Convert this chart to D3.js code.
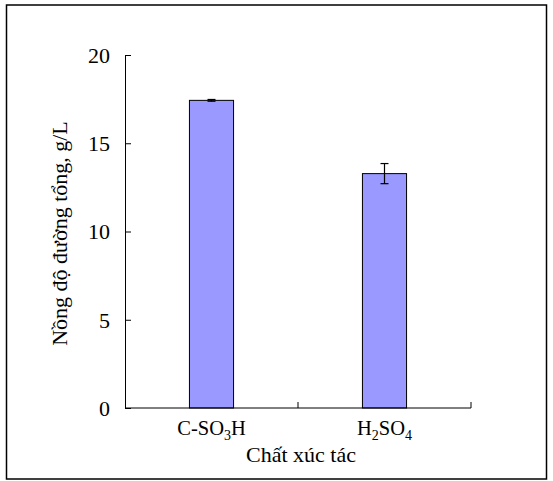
<!DOCTYPE html>
<html>
<head>
    <meta charset="utf-8">
    <script src="https://cdn.jsdelivr.net/npm/d3@7"></script>
    <style type="text/css">
        body {
            margin: 0;
            background: #fff;
        }
        text {
            font-family: "Liberation Serif", "Times New Roman", serif;
            fill: #000;
        }
    </style>
</head>
<body>
<div id="visContainer"></div>
<script>

// data
var categories = ["C-SO3H", "H2SO4"];
var values = [17.43, 13.28];
var errors = [0.05, 0.57];
var yTicks = [0, 5, 10, 15, 20];
var xTitle = "Chất xúc tác";
var yTitle = "Nồng độ đường tổng, g/L";

var width = 553, height = 481;
var mLeft = 125, mRight = 471, mTop = 55, mBottom = 408;

var svg = d3.select("#visContainer").append("svg")
        .attr("width", width)
        .attr("height", height);

// outer frame
svg.append("rect")
        .attr("x", 6.5)
        .attr("y", 5)
        .attr("width", 540)
        .attr("height", 474)
        .style("fill", "none")
        .style("stroke", "#000")
        .style("stroke-width", 1.5);

var x = d3.scaleBand()
        .domain(categories)
        .range([mLeft, mRight])
        .padding(0);

var y = d3.scaleLinear()
        .domain([0, 20])
        .range([mBottom, mTop]);

var barW = x.bandwidth() * 0.255;

function cx(i) {
    return x(categories[i]) + x.bandwidth() / 2;
}

// bars
svg.selectAll("rect.bar")
        .data(values)
        .enter().append("rect")
        .attr("class", "bar")
        .attr("x", function (d, i) { return cx(i) - barW / 2; })
        .attr("y", function (d) { return y(d); })
        .attr("width", barW)
        .attr("height", function (d) { return y(0) - y(d); })
        .style("fill", "#9999ff")
        .style("stroke", "#000")
        .style("stroke-width", 1);

// error bars
var err = svg.selectAll("g.err")
        .data(values)
        .enter().append("g")
        .attr("class", "err")
        .style("stroke", "#000")
        .style("stroke-width", 1.2);

err.append("line")
        .attr("x1", function (d, i) { return cx(i); })
        .attr("x2", function (d, i) { return cx(i); })
        .attr("y1", function (d, i) { return y(d + errors[i]); })
        .attr("y2", function (d, i) { return y(d - errors[i]); });

[1, -1].forEach(function (s) {
    err.append("line")
            .attr("x1", function (d, i) { return cx(i) - 4; })
            .attr("x2", function (d, i) { return cx(i) + 4; })
            .attr("y1", function (d, i) { return y(d + s * errors[i]); })
            .attr("y2", function (d, i) { return y(d + s * errors[i]); });
});

// y axis, ticks pointing inward
var yAxis = svg.append("g")
        .attr("transform", "translate(" + mLeft + ",0)")
        .call(d3.axisLeft(y).tickValues(yTicks).tickSize(-6).tickPadding(15).tickSizeOuter(0));

yAxis.selectAll("text")
        .style("font-size", "22px")
        .attr("dy", "0.34em");

// x axis: line with ticks at the category boundaries
var xAxis = svg.append("g")
        .attr("transform", "translate(0," + mBottom + ")");

xAxis.append("line")
        .attr("x1", mLeft)
        .attr("x2", mRight)
        .style("stroke", "#000");

xAxis.selectAll("line.tick")
        .data(categories)
        .enter().append("line")
        .attr("class", "tick")
        .attr("x1", function (d) { return x(d) + x.step(); })
        .attr("x2", function (d) { return x(d) + x.step(); })
        .attr("y1", 0)
        .attr("y2", -6)
        .style("stroke", "#000");

// category labels, digits as subscripts
var labels = xAxis.selectAll("text.cat")
        .data(categories)
        .enter().append("text")
        .attr("class", "cat")
        .attr("x", function (d, i) { return cx(i); })
        .attr("y", 27)
        .attr("text-anchor", "middle")
        .style("font-size", "20.5px");

labels.each(function (d) {
    var t = d3.select(this);
    var shift = 0;
    d.match(/\d+|\D+/g).forEach(function (part) {
        var sub = /\d/.test(part);
        var target = sub ? 5 : 0;
        var ts = t.append("tspan").attr("dy", target - shift).text(part);
        if (sub) ts.style("font-size", "14px");
        shift = target;
    });
});

svg.append("text")
        .attr("x", (mLeft + mRight) / 2 + 3)
        .attr("y", 462)
        .attr("text-anchor", "middle")
        .style("font-size", "22px")
        .text(xTitle);

svg.append("text")
        .attr("transform", "translate(67," + ((mTop + mBottom) / 2 + 2) + ") rotate(-90)")
        .attr("text-anchor", "middle")
        .style("font-size", "22px")
        .text(yTitle);

svg.selectAll(".domain").style("stroke", "#000");
svg.selectAll(".tick line").style("stroke", "#000");

</script>
</body>
</html>
